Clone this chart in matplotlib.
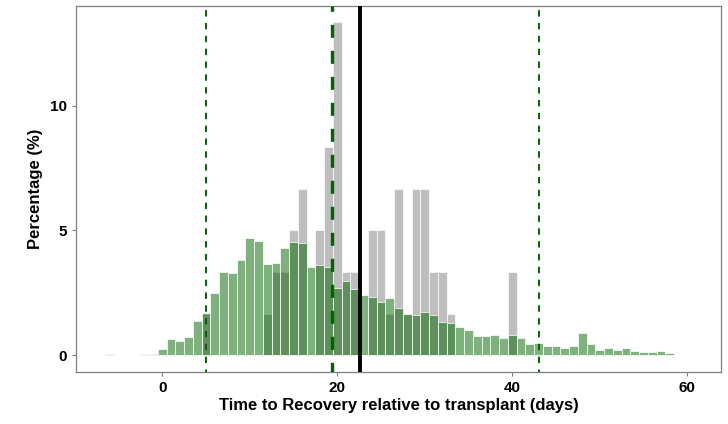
import matplotlib
matplotlib.use("Agg")
import matplotlib.pyplot as plt
import numpy as np

# ---- data (percent per 1-day bin, bins centred on integer days) ----
days = list(range(-6, 61))
green_pct = [0.05, 0, 0, 0, 0.04, 0.07,
             0.27, 0.64, 0.57, 0.73, 1.37, 1.68, 2.48, 3.35, 3.28, 3.83,
             4.69, 4.59, 3.64, 3.69, 4.31, 4.52, 4.51, 3.53, 3.61, 3.53,
             2.69, 2.97, 2.64, 2.40, 2.35, 2.12, 2.28, 1.91, 1.66, 1.60,
             1.75, 1.60, 1.33, 1.29, 1.13, 1.03, 0.79, 0.76, 0.83, 0.68,
             0.83, 0.71, 0.47, 0.48, 0.37, 0.37, 0.31, 0.37, 0.89, 0.44,
             0.23, 0.28, 0.20, 0.29, 0.16, 0.13, 0.13, 0.16, 0.11, 0.03, 0.03]

grey_days = [5, 12, 13, 14, 15, 16, 18, 19, 20, 21, 22, 24, 25, 26, 27, 28,
             29, 30, 31, 32, 33, 40]
grey_pct = [1.67, 1.67, 3.33, 3.33, 5.00, 6.67, 5.00, 8.33, 13.33, 3.33, 3.33,
            5.00, 5.00, 1.67, 6.67, 1.67, 6.67, 6.67, 3.33, 3.33, 1.67, 3.33]

green_lo, green_mid, green_hi = 5.0, 19.43, 43.0
grey_mean = 22.55

x_ticks = [0, 20, 40, 60]
y_ticks = [0, 5, 10]
x_title = "Time to Recovery relative to transplant (days)"
y_title = "Percentage (%)"

# ---- figure ----
plt.rcParams['font.family'] = ['Liberation Sans', 'DejaVu Sans']
fig = plt.figure(figsize=(7.28, 4.24), dpi=100)
ax = fig.add_axes([76/728, 1 - 372/424, (721 - 76)/728, (372 - 5.7)/424])

ax.bar(grey_days, grey_pct, width=1.0, color="#BEBEBE", edgecolor="white",
       linewidth=0.5, zorder=2)
ax.bar(days, green_pct, width=1.0, facecolor=(0, 100/255, 0, 0.5),
       edgecolor="white", linewidth=0.5, zorder=3)

dg = "#006400"
ax.axvline(green_lo, color=dg, lw=1.4, ls=(2, (3.3, 3.3)), zorder=4)
ax.axvline(green_hi, color=dg, lw=1.4, ls=(2, (3.3, 3.3)), zorder=4)
ax.axvline(green_mid, color=dg, lw=2.4, ls=(1, (3.9, 3.9)), zorder=4)
ax.axvline(grey_mean, color="black", lw=2.8, zorder=5)

ax.set_xlim(-9.85, 63.85)
ax.set_ylim(-0.667, 14.0)
ax.set_xticks(x_ticks)
ax.set_yticks(y_ticks)
ax.set_xticklabels([str(t) for t in x_ticks])
ax.set_yticklabels([str(t) for t in y_ticks])

for s in ax.spines.values():
    s.set_color("#7F7F7F")
    s.set_linewidth(0.9)
ax.tick_params(axis='both', direction='out', length=3, width=0.8,
               color="#7F7F7F", labelsize=11, labelcolor="black", pad=3.5)
for lab in ax.get_xticklabels() + ax.get_yticklabels():
    lab.set_fontweight("bold")

ax.set_xlabel(x_title, fontsize=12, fontweight="bold", labelpad=2)
ax.set_ylabel(y_title, fontsize=12, fontweight="bold", labelpad=5)

fig.savefig("out.png", dpi=100, facecolor="white")
